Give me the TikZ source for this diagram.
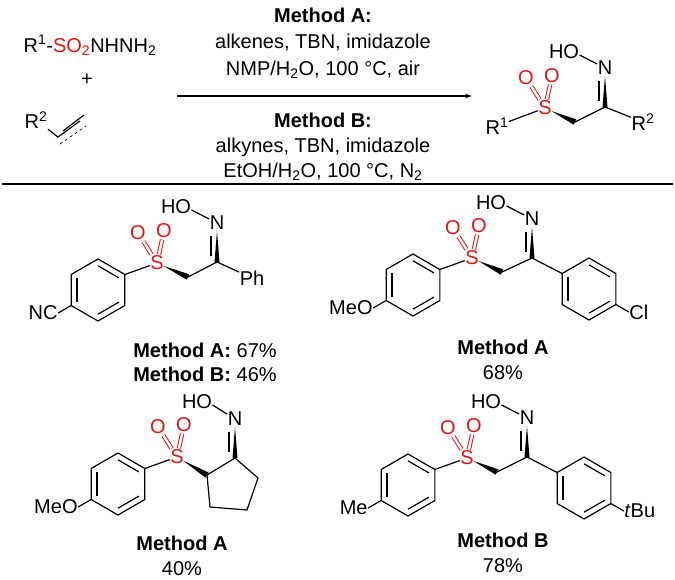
\documentclass[tikz,border=0pt]{standalone}
\usepackage{fontspec}
\setmainfont{Liberation Sans}
\usetikzlibrary{calc,positioning}
\definecolor{sred}{RGB}{225,20,20}

% benzene ring: centre, name
\newcommand{\benzring}[2]{%
  \foreach \i/\a in {1/-90,2/-30,3/30,4/90,5/150,6/210} \coordinate (#2-\i) at ($(#1)+(\a:31)$);
  \draw (#2-1) -- (#2-2) -- (#2-3) -- (#2-4) -- (#2-5) -- (#2-6) -- cycle;
  \draw ($(#1)!.78!(#2-1)$) -- ($(#1)!.78!(#2-2)$);
  \draw ($(#1)!.78!(#2-3)$) -- ($(#1)!.78!(#2-4)$);
  \draw ($(#1)!.78!(#2-5)$) -- ($(#1)!.78!(#2-6)$);}

% sulfonyl oxygens around S: S name, prefix
\newcommand{\sulfox}[2]{%
  \node[atom,sred] (#2O1) at ($(#1)+(-19,-30)$) {O};
  \node[atom,sred] (#2O2) at ($(#1)+(7,-32)$) {O};
  \draw[dbl] (#1) -- (#2O1); \draw[dbl] (#1) -- (#2O2);}
\newcommand{\sps}[1]{\textsuperscript{#1}}
\newcommand{\sbs}[1]{\textsubscript{#1}}

\begin{document}
\begin{tikzpicture}[x=1pt,y=-1pt,line width=1.2pt,font=\fontsize{20}{24}\selectfont]

\tikzset{atom/.style={inner sep=0pt,font=\fontsize{20}{24}\selectfont},
dbl/.style={draw=sred,double distance=2.4pt,line width=1pt,shorten >=1pt,shorten <=1pt},
lbl/.style={inner sep=0pt,font=\fontsize{20}{24}\selectfont},
bfl/.style={lbl,font=\fontsize{20}{24}\selectfont\bfseries}}

\useasboundingbox (0,0) rectangle (675,579);

% reactants
\node[lbl] (sulf) at (90,45) {R\sps{1}-\textcolor{sred}{SO\sbs{2}}NHNH\sbs{2}};
\node[lbl] (plus) at (87,80) {+};
\node[lbl] (R2a) at (36,120) {R\sps{2}};
\coordinate (ya) at (58,137);
\coordinate (yb) at (80,121);
\draw (R2a) -- (ya) -- (yb);
\draw ($(ya)+(5,-6)$) -- ($(yb)+(4,-6)$);
\draw[dashed,line width=.7pt] ($(ya)+(2,7)$) -- ($(yb)+(6,5)$);

% arrow and conditions
\coordinate (arrL) at (177,96);
\coordinate (arrR) at (472,96);
\draw[-latex] (arrL) -- (arrR);
\node[bfl] (mA) at (323,15) {Method A:};
\node[lbl] (cA1) at (323,43) {alkenes, TBN, imidazole};
\node[lbl] (cA2) at (323,70) {NMP/H\sbs{2}O, 100 °C, air};
\node[bfl] (mB) at (323,120) {Method B:};
\node[lbl] (cB1) at (323,147) {alkynes, TBN, imidazole};
\node[lbl] (cB2) at (323,172) {EtOH/H\sbs{2}O, 100 °C, N\sbs{2}};
\coordinate (lineL) at (2,184);
\coordinate (lineR) at (673,184);
\draw (lineL) -- (lineR);

% product
\node[atom,sred] (Sp) at (545,108) {S};
\sulfox{Sp}{p}
\node[atom] (R1p) at (497,126) {R\sps{1}};
\draw (Sp) -- (R1p);
\coordinate (CHp) at (575,122);
\node[atom] (Cp) at (605,107) {};
\node[atom] (Np) at (605,68) {N};
\node[atom] (HOp) at (564,52) {HO};
\node[atom] (R2p) at (643,122) {R\sps{2}};
\fill ($(Sp)!7pt!(CHp)$) -- ($(CHp)!3pt!90:(Sp)$) -- ($(CHp)!3pt!-90:(Sp)$) -- cycle;
\draw (CHp) -- (Cp.center) -- (R2p);
\fill ($(Np)!8pt!(Cp.center)$) -- ($(Cp.center)!2.5pt!90:(Np)$) -- ($(Cp.center)!2.5pt!-90:(Np)$) -- cycle;
\draw ($(Cp.center)+(-6,-6)$) -- ($(Np)+(-6,13)$);
\draw ($(HOp.east)+(0,3)$) -- (Np);

% compound 1
\node[atom,sred] (S1) at (157,263) {S};
\sulfox{S1}{a}
\coordinate (c1) at (98,290);
\benzring{c1}{r1}
\draw (r1-2) -- (S1);
\draw (r1-5) -- ++(150:15) node[anchor=east,atom] (NC1) {NC};
\coordinate (CH1) at (188,277);
\coordinate (C1) at (217,262);
\node[atom] (N1) at (217,223) {N};
\node[atom] (HO1) at (176,207) {HO};
\node[atom] (Ph1) at (252,278) {Ph};
\fill ($(S1)!7pt!(CH1)$) -- ($(CH1)!3pt!90:(S1)$) -- ($(CH1)!3pt!-90:(S1)$) -- cycle;
\draw (CH1) -- (C1) -- (Ph1);
\fill ($(N1)!8pt!(C1)$) -- ($(C1)!2.5pt!90:(N1)$) -- ($(C1)!2.5pt!-90:(N1)$) -- cycle;
\draw ($(C1)+(-6,-6)$) -- ($(N1)+(-6,13)$);
\draw ($(HO1.east)+(0,3)$) -- (N1);
\node[lbl] (y1a) at (205,350) {\textbf{Method A:} 67\%};
\node[lbl] (y1b) at (205,374) {\textbf{Method B:} 46\%};

% compound 2
\node[atom,sred] (S2) at (472,258) {S};
\sulfox{S2}{b}
\coordinate (c2) at (413,285);
\benzring{c2}{r2}
\draw (r2-2) -- (S2);
\draw (r2-5) -- ++(150:15) node[anchor=east,atom] (MeO2) {MeO};
\coordinate (CH2) at (502,272);
\coordinate (C2) at (532,258);
\node[atom] (N2) at (532,219) {N};
\node[atom] (HO2) at (491,203) {HO};
\coordinate (c2b) at (589,289);
\benzring{c2b}{r2b}
\fill ($(S2)!7pt!(CH2)$) -- ($(CH2)!3pt!90:(S2)$) -- ($(CH2)!3pt!-90:(S2)$) -- cycle;
\draw (CH2) -- (C2) -- (r2b-6);
\draw (r2b-3) -- ++(30:15) node[anchor=west,atom] (Cl2) {Cl};
\fill ($(N2)!8pt!(C2)$) -- ($(C2)!2.5pt!90:(N2)$) -- ($(C2)!2.5pt!-90:(N2)$) -- cycle;
\draw ($(C2)+(-6,-6)$) -- ($(N2)+(-6,13)$);
\draw ($(HO2.east)+(0,3)$) -- (N2);
\node[bfl] (y2a) at (503,347) {Method A};
\node[lbl] (y2b) at (503,373) {68\%};

% compound 3
\node[atom,sred] (S3) at (177,457) {S};
\sulfox{S3}{c}
\coordinate (c3) at (118,484);
\benzring{c3}{r3}
\draw (r3-2) -- (S3);
\draw (r3-5) -- ++(150:15) node[anchor=east,atom] (MeO3) {MeO};
\coordinate (p1) at (207,475);
\coordinate (p2) at (235,458);
\coordinate (p3) at (258,478);
\coordinate (p4) at (247,510);
\coordinate (p5) at (210,507);
\node[atom] (N3) at (235,419) {N};
\node[atom] (HO3) at (197,402) {HO};
\fill ($(S3)!7pt!(p1)$) -- ($(p1)!3pt!90:(S3)$) -- ($(p1)!3pt!-90:(S3)$) -- cycle;
\draw (p1) -- (p2) -- (p3) -- (p4) -- (p5) -- cycle;
\fill ($(N3)!8pt!(p2)$) -- ($(p2)!2.5pt!90:(N3)$) -- ($(p2)!2.5pt!-90:(N3)$) -- cycle;
\draw ($(p2)+(-6,-6)$) -- ($(N3)+(-6,13)$);
\draw ($(HO3.east)+(0,3)$) -- (N3);
\node[bfl] (y3a) at (182,543) {Method A};
\node[lbl] (y3b) at (182,569) {40\%};

% compound 4
\node[atom,sred] (S4) at (467,458) {S};
\sulfox{S4}{d}
\coordinate (c4) at (408,485);
\benzring{c4}{r4}
\draw (r4-2) -- (S4);
\draw (r4-5) -- ++(150:15) node[anchor=east,atom] (Me4) {Me};
\coordinate (CH4) at (497,472);
\coordinate (C4) at (527,457);
\node[atom] (N4) at (527,418) {N};
\node[atom] (HO4) at (486,402) {HO};
\coordinate (c4b) at (584,488);
\benzring{c4b}{r4b}
\fill ($(S4)!7pt!(CH4)$) -- ($(CH4)!3pt!90:(S4)$) -- ($(CH4)!3pt!-90:(S4)$) -- cycle;
\draw (CH4) -- (C4) -- (r4b-6);
\draw (r4b-3) -- ++(30:15) node[anchor=west,atom] (tBu4) {\textit{t}Bu};
\fill ($(N4)!8pt!(C4)$) -- ($(C4)!2.5pt!90:(N4)$) -- ($(C4)!2.5pt!-90:(N4)$) -- cycle;
\draw ($(C4)+(-6,-6)$) -- ($(N4)+(-6,13)$);
\draw ($(HO4.east)+(0,3)$) -- (N4);
\node[bfl] (y4a) at (503,540) {Method B};
\node[lbl] (y4b) at (503,566) {78\%};

\end{tikzpicture}
\end{document}
